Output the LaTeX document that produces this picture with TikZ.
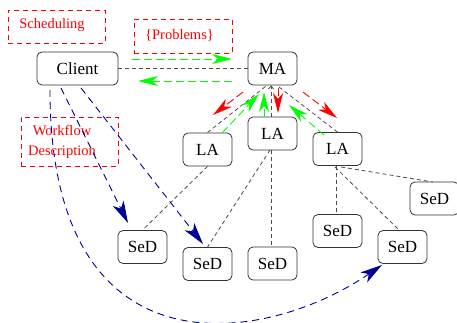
\documentclass[tikz,border=0pt]{standalone}
\usepackage{fontspec}
\setmainfont{Liberation Serif}
\usetikzlibrary{arrows.meta}
\definecolor{navy}{rgb}{0.0,0.0,0.6}
\definecolor{lgreen}{rgb}{0.0,1.0,0.0}
\definecolor{dgray}{gray}{0.3}
\tikzset{
  agent/.style={draw=black!80, line width=0.8pt, rounded corners=5pt,
    minimum width=49pt, minimum height=33pt, inner sep=0pt,
    font=\fontsize{17}{20}\selectfont},
  note/.style={draw=red, dashed, dash pattern=on 5pt off 4pt, line width=0.8pt,
    inner sep=0pt},
  notetext/.style={text=red, font=\fontsize{14.5}{20}\selectfont, align=center, inner sep=0pt},
  link/.style={draw=dgray, line width=0.8pt, dash pattern=on 4pt off 3pt},
  ctrl/.style={line width=0.9pt, dash pattern=on 8pt off 4pt,
    -{Stealth[length=20pt,width=10pt,inset=6pt]}},
  job/.style={draw=navy, line width=0.9pt, dash pattern=on 7pt off 5pt,
    -{Stealth[length=22pt,width=12pt,inset=6pt]}},
}
\begin{document}
\begin{tikzpicture}[x=1pt,y=-1pt]
\useasboundingbox (0,0) rectangle (457,323);

% annotation boxes
\node[note, minimum width=97pt, minimum height=33pt] (schedbox) at (56.5,26.5) {};
\node[notetext] (sched) at (52,25) {Scheduling};
\node[note, minimum width=98pt, minimum height=34pt] (probbox) at (183,36) {};
\node[notetext] (prob) at (179.5,35) {\{Problems\}};
\node[note, minimum width=97pt, minimum height=49pt] (wfbox) at (69.5,141.5) {};
\node[notetext] (wf) at (62,142) {Workflow\\Description};

% agents
\node[agent, minimum width=81pt] (client) at (77.5,68.5) {Client};
\node[agent] (MA)  at (272.5,68.5) {MA};
\node[agent] (LAm) at (272.5,133.5) {LA};
\node[agent] (LAl) at (207.5,149.5) {LA};
\node[agent] (LAr) at (337.5,149) {LA};
\node[agent] (S1) at (142.5,247) {SeD};
\node[agent] (S2) at (207.5,264) {SeD};
\node[agent] (S3) at (272.5,263.5) {SeD};
\node[agent] (S4) at (337.5,231) {SeD};
\node[agent] (S5) at (402.5,247) {SeD};
\node[agent] (S6) at (434.5,198.5) {SeD};

% hierarchy links
\draw[link] (client.east) -- (MA.west);
\coordinate (maL) at (266,86);
\coordinate (maR) at (279,87);
\draw[link] (LAl.north) -- (maL);
\draw[link, -{Straight Barb[length=3pt,width=5pt]}] (LAm.north -| 271,0) -- (MA.south -| 271,0);
\draw[link] (maR) -- (LAr.north);
\draw[link] (LAl.south) -- (S1.north);
\draw[link] (270,150) -- (S2.north);
\draw[link] (LAm.south -| 271,0) -- (S3.north -| 271,0);
\draw[link] (LAr.south -| 336,0) -- (S4.north -| 336,0);
\draw[link] (335,167) -- (400,231);
\draw[link] (341,167) -- (433,182);

% request / reply between client and MA
\coordinate (c1) at (132,59);
\coordinate (m1) at (232,59);
\coordinate (m2) at (232,81);
\coordinate (c2) at (138,81);
\draw[ctrl, lgreen] (c1) -- (m1);
\draw[ctrl, lgreen] (m2) -- (c2);

% MA forwards to the LAs
\draw[ctrl, red] (243,92) -- (213,115);
\draw[ctrl, red] (278,88) -- (278,113);
\draw[ctrl, red] (303,92) -- (337,118);

% LAs answer back to MA
\draw[ctrl, lgreen] (222,133) -- (259,94);
\draw[ctrl, lgreen] (264,117) -- (264,92);
\draw[ctrl, lgreen] (324,135) -- (289,105);

% client submits to SeDs
\draw[job] (61,88) -- (128,223);
\draw[job] (81,88) -- (203,244);
\draw[job] (50,90) .. controls (50,380) and (265,345) .. (382,265);
\end{tikzpicture}
\end{document}
